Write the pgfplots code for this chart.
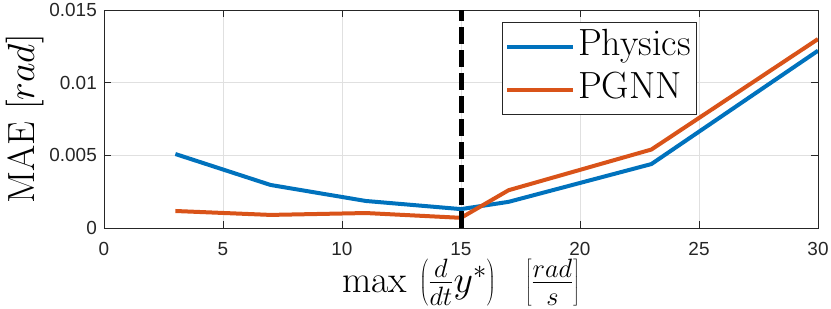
\RequirePackage{fix-cm}
\documentclass[border=0pt]{standalone}
\usepackage{fontspec}
\usepackage{pgfplots}
\pgfplotsset{compat=1.18}
\newfontfamily\ticksf{Liberation Sans}
\definecolor{mblue}{rgb}{0,0.447,0.741}
\definecolor{morange}{rgb}{0.850,0.325,0.098}
\definecolor{axgray}{gray}{0.15}
\begin{document}
\begin{tikzpicture}
\begin{axis}[
  name=ax,
  at={(0,0)}, anchor=south west,
  scale only axis,
  width=714bp, height=218bp,
  xmin=0, xmax=30, ymin=0, ymax=0.015,
  xtick={0,5,10,15,20,25,30},
  ytick={0,0.005,0.01,0.015},
  yticklabels={0,0.005,0.01,0.015},
  scaled y ticks=false,
  /pgf/number format/assume math mode=true,
  tick label style={font=\ticksf\fontsize{19}{22}\selectfont, text=axgray, inner sep=0pt},
  xticklabel style={anchor=north, yshift=-14bp},
  yticklabel style={anchor=east, xshift=-7bp},
  axis line style={axgray, line width=0.8pt},
  tick style={axgray, line width=0.8pt},
  major tick length=7bp,
  tick align=inside,
  grid=major,
  grid style={black!12, line width=0.7pt},
  xlabel={$\max\,\left(\frac{d}{dt}y^*\right)\hspace{23bp}\left[\frac{rad}{s}\right]$},
  ylabel={MAE $[rad]$},
  label style={font=\fontsize{38}{44}\selectfont, inner sep=0pt},
  xlabel style={at={(axis description cs:0.5,-0.2936)}, anchor=base},
  ylabel style={at={(axis description cs:-0.098,0.5)}, anchor=base, rotate=0},
  legend style={at={(0.557,0.945)}, anchor=north west, draw=axgray, line width=0.8pt,
     font=\fontsize{38}{44}\selectfont, inner xsep=3bp, inner ysep=3bp, row sep=0pt, column sep=0pt,
     nodes={inner xsep=3bp, inner ysep=0pt, text height=30bp, text depth=13bp}},
  legend cell align=left,
  legend image code/.code={\draw[#1, line width=4bp] (0bp,0bp) -- (66bp,0bp);},
]
\addplot[mblue, line width=4bp] coordinates {
 (3,0.00509) (7,0.00296) (11,0.00186) (15,0.0013) (17,0.0018) (23,0.0044) (30,0.0122)};
\addlegendentry{Physics}
\addplot[morange, line width=4bp] coordinates {
 (3,0.00117) (7,0.0009) (11,0.00103) (15,0.0007) (17,0.0026) (23,0.0054) (30,0.0130)};
\addlegendentry{PGNN}
\addplot[black, line width=5bp, dash pattern=on 17bp off 6bp, forget plot] coordinates {(15,0) (15,0.015)};
\end{axis}
\pgfresetboundingbox
\path[use as bounding box] ([shift={(-104bp,-81bp)}]ax.south west) rectangle ([shift={(13bp,10bp)}]ax.north east);
\end{tikzpicture}
\end{document}
